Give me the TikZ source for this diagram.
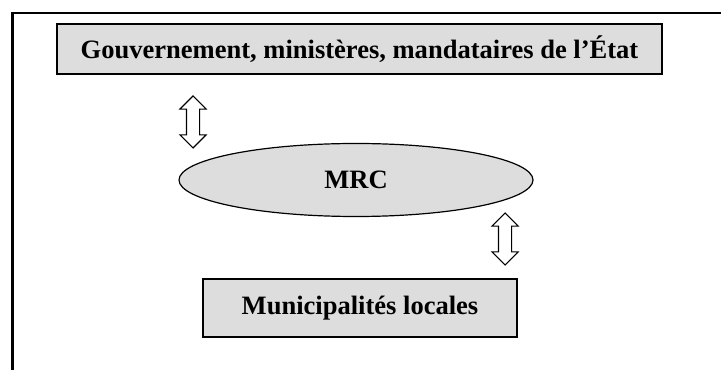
\documentclass[tikz,border=0pt]{standalone}
\usepackage{fontspec}
\setmainfont{Liberation Serif}
\usetikzlibrary{shapes.geometric,shapes.arrows}
\definecolor{boxgray}{RGB}{221,221,221}
\begin{document}
\begin{tikzpicture}[x=0.75pt,y=-0.75pt,
        label font/.style={font=\fontsize{19.9}{24}\selectfont\bfseries},
        level/.style={draw,line width=1.2pt,fill=boxgray,inner sep=0pt,label font},
        hub/.style={ellipse,draw,line width=0.9pt,fill=boxgray,inner sep=0pt,label font},
        updown/.style={double arrow,draw,fill=white,line width=0.8pt,rotate=90,
            double arrow head extend=4.9pt,inner xsep=0pt,inner ysep=4.5pt,
            minimum height=39pt,minimum width=0pt}]
    \useasboundingbox (0,0) rectangle (721,370);

    % frame
    \draw [line width=1.6pt] (12.5,370) |- (721,13);

    \node [level,minimum width=453.75pt,minimum height=37.5pt] (gov) at (359.5,49)
        {Gouvernement, ministères, mandataires de l’État};
    \node [hub,minimum width=265.5pt,minimum height=54.75pt] (mrc) at (356,180) {MRC};
    \node [level,minimum width=235.5pt,minimum height=43.5pt] (muni) at (360,308)
        {Municipalités locales};

    \node [updown] (govmrc) at (193,122) {};
    \node [updown] (mrcmuni) at (505,239) {};
\end{tikzpicture}
\end{document}
